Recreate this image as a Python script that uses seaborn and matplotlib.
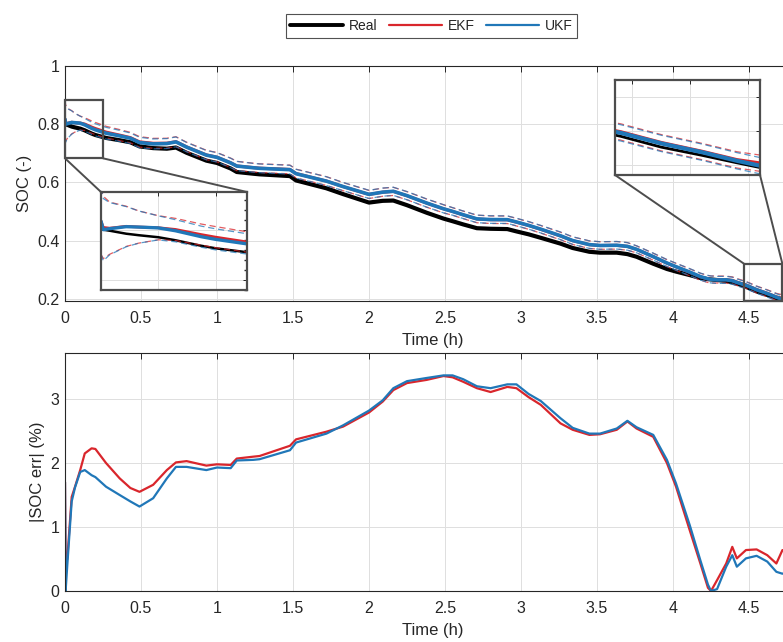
import numpy as np
import pandas as pd
import matplotlib
matplotlib.use("Agg")
import matplotlib.pyplot as plt
import seaborn as sns
from matplotlib.lines import Line2D
from matplotlib.patches import Rectangle, ConnectionPatch

# --- data (time in h) ---
time_h = [0, 0.004, 0.015, 0.044, 0.066, 0.10, 0.13, 0.175, 0.20, 0.27,
          0.36, 0.43, 0.49, 0.58, 0.67, 0.73, 0.80, 0.93, 1.00, 1.09,
          1.13, 1.24, 1.28, 1.48, 1.52, 1.72, 1.83, 2.00, 2.09, 2.16,
          2.25, 2.38, 2.49, 2.55, 2.62, 2.71, 2.80, 2.91, 2.97, 3.05,
          3.13, 3.26, 3.34, 3.45, 3.52, 3.63, 3.70, 3.76, 3.87, 3.96,
          4.02, 4.11, 4.18, 4.23, 4.25, 4.29, 4.35, 4.39, 4.42, 4.48,
          4.55, 4.62, 4.68, 4.72, 4.80]

soc_real = [0.800, 0.800, 0.798, 0.792, 0.789, 0.785, 0.779, 0.768, 0.763, 0.753,
            0.745, 0.738, 0.724, 0.718, 0.716, 0.720, 0.702, 0.675, 0.667, 0.648,
            0.636, 0.630, 0.628, 0.622, 0.607, 0.580, 0.560, 0.531, 0.537, 0.538,
            0.522, 0.496, 0.476, 0.467, 0.456, 0.443, 0.441, 0.440, 0.432, 0.422,
            0.410, 0.390, 0.375, 0.362, 0.359, 0.359, 0.354, 0.345, 0.321, 0.303,
            0.294, 0.282, 0.272, 0.268, 0.267, 0.265, 0.262, 0.257, 0.253, 0.242,
            0.226, 0.214, 0.203, 0.196, 0.185]

err_ekf_pct = [1.70, 0.45, 0.50, 1.47, 1.63, 1.89, 2.15, 2.23, 2.22, 2.00,
               1.76, 1.61, 1.55, 1.66, 1.89, 2.01, 2.03, 1.96, 1.98, 1.97,
               2.07, 2.10, 2.11, 2.27, 2.37, 2.49, 2.57, 2.79, 2.96, 3.14,
               3.25, 3.30, 3.36, 3.34, 3.27, 3.17, 3.11, 3.19, 3.17, 3.03,
               2.91, 2.62, 2.52, 2.44, 2.45, 2.52, 2.65, 2.54, 2.41, 2.00,
               1.63, 0.95, 0.43, 0.05, 0.00, 0.17, 0.43, 0.69, 0.51, 0.64,
               0.65, 0.56, 0.43, 0.64, 0.55]

err_ukf_pct = [1.70, 0.00, 0.40, 1.40, 1.62, 1.86, 1.89, 1.81, 1.78, 1.63,
               1.50, 1.40, 1.32, 1.45, 1.76, 1.94, 1.94, 1.89, 1.93, 1.92,
               2.04, 2.05, 2.06, 2.20, 2.32, 2.46, 2.59, 2.82, 2.98, 3.17,
               3.28, 3.33, 3.37, 3.37, 3.31, 3.20, 3.17, 3.23, 3.23, 3.08,
               2.97, 2.70, 2.55, 2.46, 2.46, 2.54, 2.66, 2.56, 2.44, 2.05,
               1.68, 1.03, 0.48, 0.10, 0.00, 0.03, 0.38, 0.56, 0.38, 0.51,
               0.55, 0.46, 0.30, 0.27, 0.35]

# half width of the dashed confidence band (SOC units)
bound = [0.066, 0.062, 0.052, 0.040, 0.032, 0.024, 0.022, 0.021, 0.021, 0.020,
         0.019, 0.018, 0.018, 0.017, 0.017, 0.017, 0.016, 0.016, 0.016, 0.016,
         0.016, 0.015, 0.015, 0.015, 0.015, 0.015, 0.014, 0.014, 0.014, 0.014,
         0.014, 0.014, 0.014, 0.013, 0.013, 0.013, 0.013, 0.013, 0.013, 0.013,
         0.013, 0.013, 0.013, 0.013, 0.013, 0.013, 0.013, 0.012, 0.012, 0.012,
         0.012, 0.012, 0.012, 0.012, 0.012, 0.012, 0.012, 0.012, 0.012, 0.012,
         0.012, 0.012, 0.012, 0.012, 0.012]

df = pd.DataFrame({"t": time_h, "real": soc_real, "e_ekf": err_ekf_pct,
                   "e_ukf": err_ukf_pct, "b": bound})
df["ekf"] = df["real"] + df["e_ekf"] / 100
df["ukf"] = df["real"] + df["e_ukf"] / 100

RED = "#D9262C"
BLUE = "#2077B8"
DARK = "#262626"
GRID = "#DFDFDF"
FS = 11.5

sns.set_theme(style="white")
plt.rcParams["font.family"] = ["Liberation Sans", "DejaVu Sans"]
plt.rcParams["font.size"] = FS

fig = plt.figure(figsize=(7.83, 6.42), dpi=100)
W, H = 783, 642


def px_axes(l, t, r, b):
    return fig.add_axes([l / W, 1 - b / H, (r - l) / W, (b - t) / H])


def style(ax, grid=True):
    for s in ax.spines.values():
        s.set_color(DARK)
        s.set_linewidth(0.8)
    ax.tick_params(direction="in", length=4, width=0.7, colors=DARK,
                   top=True, right=True, labelsize=FS)
    ax.tick_params(axis="x", pad=7)
    ax.tick_params(axis="y", pad=4)
    if grid:
        ax.grid(True, color=GRID, linewidth=0.7)
    ax.set_axisbelow(True)


def soc_lines(ax, lw_real=3.0, lw_est=2.6):
    sns.lineplot(data=df, x="t", y="real", ax=ax, color="black", lw=lw_real)
    sns.lineplot(data=df, x="t", y="ekf", ax=ax, color=RED, lw=lw_est - 0.4)
    sns.lineplot(data=df, x="t", y="ukf", ax=ax, color=BLUE, lw=lw_est)
    for col, c in (("ekf", RED), ("ukf", BLUE)):
        ax.plot(df["t"], df[col] + df["b"], ls=(0, (5, 3)), color=c, lw=0.9, alpha=0.75)
        ax.plot(df["t"], df[col] - df["b"], ls=(0, (5, 3)), color=c, lw=0.9, alpha=0.75)


ticks_x = np.arange(0, 5, 0.5)
ticklabels_x = ["0", "0.5", "1", "1.5", "2", "2.5", "3", "3.5", "4", "4.5"]

# ---- top: SOC ----
ax1 = px_axes(65, 66, 800, 301)
soc_lines(ax1)
ax1.set_xlim(0, (800 - 65) / 152)
ax1.set_ylim(0.193, 1.0)
ax1.set_xticks(ticks_x)
ax1.set_xticklabels(ticklabels_x)
ax1.set_yticks([0.2, 0.4, 0.6, 0.8, 1.0])
ax1.set_yticklabels(["0.2", "0.4", "0.6", "0.8", "1"])
ax1.set_xlabel("Time (h)", color=DARK, labelpad=5, fontsize=12)
ax1.set_ylabel("SOC (-)", color=DARK, labelpad=4, fontsize=12)
style(ax1)

# zoom boxes
r1 = (0.0, 0.683, 0.25, 0.883)
r2 = (4.47, 0.193, 4.72, 0.32)
for x0, y0, x1, y1 in (r1, r2):
    ax1.add_patch(Rectangle((x0, y0), x1 - x0, y1 - y0, fill=False,
                            ec="#4D4D4D", lw=1.6, zorder=5, clip_on=False))

# insets
in1 = px_axes(101, 192, 247, 290)
soc_lines(in1, lw_real=1.8, lw_est=2.4)
in1.set_xlim(0, 0.255)
in1.set_ylim(0.68, 0.875)
in1.set_xticks([0.1, 0.2])
in1.set_yticks([0.7, 0.8])
in1.set_yticks(np.arange(0.68, 0.88, 0.02), minor=True)

in2 = px_axes(615, 80, 760, 175)
soc_lines(in2, lw_real=2.0, lw_est=3.0)
in2.set_xlim(4.47, 4.72)
in2.set_ylim(0.185, 0.325)
in2.set_xticks([4.5, 4.6, 4.7])
in2.set_yticks([0.2, 0.25, 0.3])

for ax in (in1, in2):
    style(ax)
    ax.tick_params(labelbottom=False, labelleft=False, length=3)
    ax.tick_params(which="minor", direction="in", length=2, right=True, left=False,
                   colors=DARK)
    ax.set_xlabel("")
    ax.set_ylabel("")
    for s in ax.spines.values():
        s.set_color("#4D4D4D")
        s.set_linewidth(1.6)

# connectors
for (xa, ya), inset, (xb, yb) in (((r1[0], r1[1]), in1, (0, 1)),
                                  ((r1[2], r1[1]), in1, (1, 1)),
                                  ((r2[0], r2[3]), in2, (0, 0)),
                                  ((r2[2], r2[3]), in2, (1, 0))):
    cp = ConnectionPatch(xyA=(xa, ya), coordsA=ax1.transData,
                         xyB=(xb, yb), coordsB=inset.transAxes,
                         color="#4D4D4D", lw=1.4, zorder=6)
    fig.add_artist(cp)

# ---- bottom: absolute error ----
ax2 = px_axes(65, 353, 800, 591)
sns.lineplot(data=df, x="t", y="e_ekf", ax=ax2, color=RED, lw=1.6)
sns.lineplot(data=df, x="t", y="e_ukf", ax=ax2, color=BLUE, lw=1.6)
ax2.set_xlim(0, (800 - 65) / 152)
ax2.set_ylim(0, 3.72)
ax2.set_xticks(ticks_x)
ax2.set_xticklabels(ticklabels_x)
ax2.set_yticks([0, 1, 2, 3])
ax2.set_xlabel("Time (h)", color=DARK, labelpad=5, fontsize=12)
ax2.set_ylabel("|SOC err| (%)", color=DARK, labelpad=4, fontsize=12)
style(ax2)

# legend
handles = [Line2D([], [], color="black", lw=2.8),
           Line2D([], [], color=RED, lw=1.6),
           Line2D([], [], color=BLUE, lw=1.6)]
leg = fig.legend(handles, ["Real", "EKF", "UKF"], loc="center",
                 bbox_to_anchor=(431.5 / W, 1 - 25.8 / H), ncol=3, frameon=True,
                 fancybox=False, edgecolor=DARK, handlelength=3.8,
                 columnspacing=0.85, handletextpad=0.4, borderpad=0.35,
                 fontsize=10)
leg.get_frame().set_linewidth(0.8)

fig.savefig("out.png", dpi=100)
